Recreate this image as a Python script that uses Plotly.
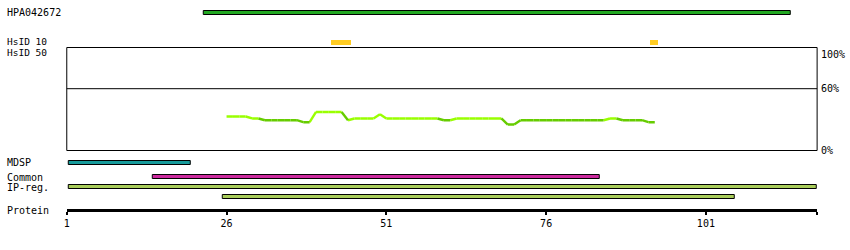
import plotly.graph_objects as go

# ---------------- data ----------------
positions = [26, 27, 28, 29, 30, 31, 32, 33, 34, 35, 36, 37, 38, 39, 40, 41, 42, 43, 44,
             45, 46, 47, 48, 49, 50, 51, 52, 53, 54, 55, 56, 57, 58, 59, 60, 61, 62, 63,
             64, 65, 66, 67, 68, 69, 70, 71, 72, 73, 74, 75, 76, 77, 78, 79, 80, 81, 82,
             83, 84, 85, 86, 87, 88, 89, 90, 91, 92, 93]
identity = [33.0, 33.0, 33.0, 33.0, 31.1, 31.1, 29.4, 29.4, 29.4, 29.4, 29.4, 29.4, 27.5, 27.5,
            37.4, 37.4, 37.4, 37.4, 37.4, 29.4, 31.1, 31.1, 31.1, 31.1, 35.1, 31.1, 31.1, 31.1,
            31.1, 31.1, 31.1, 31.1, 31.1, 31.1, 29.4, 29.4, 31.1, 31.1, 31.1, 31.1, 31.1, 31.1,
            31.1, 31.1, 25.2, 25.2, 29.4, 29.4, 29.4, 29.4, 29.4, 29.4, 29.4, 29.4, 29.4, 29.4,
            29.4, 29.4, 29.4, 29.4, 31.1, 31.1, 29.4, 29.4, 29.4, 29.4, 27.5, 27.5]

seq_start = 1
seq_end = 118.4
tick_vals = [1, 26, 51, 76, 101]
tick_labels = ["1", "26", "51", "76", "101"]

hpa_start = [22.4]
hpa_end = [114.3]
hsid10_start = [42.3, 92.2]
hsid10_end = [45.4, 93.5]
mdsp_start = [1.35]
mdsp_end = [20.45]
common_start = [14.45]
common_end = [84.4]
ipreg_start = [1.35, 25.4]
ipreg_end = [118.4, 105.45]

pct_labels = ["100%", "60%", "0%"]
pct_vals = [100, 60, 0]
row_names = ["HPA042672", "HsID 10", "HsID 50", "MDSP", "Common", "IP-reg.", "Protein"]

# ---------------- layout (pixel rows) ----------------
W, H = 850, 250
X0, X1 = 64, 817
row_text_y = [12.3, 41.2, 53.0, 162.8, 177.3, 187.3, 210]
row_text_size = [10, 9.5, 9.5, 10, 10, 10, 10]
FONT = "DejaVu Sans Mono"
LIGHT = "#99ff00"
DARK = "#66cc00"

fig = go.Figure()


def add_bars(starts, ends, yc, color, outline=True, thick=4):
    fig.add_trace(go.Bar(
        orientation="h",
        base=starts,
        x=[e - s for s, e in zip(starts, ends)],
        y=[yc] * len(starts),
        width=thick,
        marker=dict(color=color,
                    line=dict(color="black", width=1 if outline else 0)),
        xaxis="x", yaxis="y", showlegend=False, hoverinfo="skip",
    ))


add_bars(hpa_start, hpa_end, 12.5, "#22a822")
add_bars(hsid10_start, hsid10_end, 42.5, "#ffcc22", outline=False, thick=5)
add_bars(mdsp_start, mdsp_end, 163.0, "#179b9b")
add_bars(common_start, common_end, 177.4, "#cc2a9e")
add_bars(ipreg_start[:1], ipreg_end[:1], 187.4, "#a8cc5a")
add_bars(ipreg_start[1:], ipreg_end[1:], 197.4, "#a8cc5a")

# identity line, segments coloured by value
seg = {LIGHT: ([], []), DARK: ([], [])}
for i in range(len(positions) - 1):
    c = LIGHT if identity[i + 1] >= 30 else DARK
    seg[c][0].extend([positions[i], positions[i + 1], None])
    seg[c][1].extend([identity[i], identity[i + 1], None])
for c, (xs, ys) in seg.items():
    fig.add_trace(go.Scatter(x=xs, y=ys, mode="lines",
                             line=dict(color=c, width=2.4),
                             xaxis="x", yaxis="y2", showlegend=False,
                             hoverinfo="skip"))

# box + 60% line
fig.add_shape(type="rect", xref="x domain", yref="y2 domain", x0=0, x1=1, y0=0, y1=1,
              line=dict(color="black", width=1), fillcolor="rgba(0,0,0,0)")
fig.add_shape(type="line", xref="x domain", yref="y2", x0=0, x1=1, y0=60, y1=60,
              line=dict(color="black", width=1))

ann = []
for name, yc, fs in zip(row_names, row_text_y, row_text_size):
    ann.append(dict(text=name, x=3 / W, y=1 - yc / H, xref="paper", yref="paper",
                    xanchor="left", yanchor="middle", showarrow=False, borderpad=0,
                    font=dict(family=FONT, size=fs, color="black")))
for lab, v in zip(pct_labels, pct_vals):
    ann.append(dict(text=lab, x=819 / W, y=v, xref="paper", yref="y2",
                    xanchor="left", yanchor="top" if v == 100 else "middle",
                    showarrow=False, font=dict(family=FONT, size=10, color="black")))

pct_dom = [1 - 150.5 / H, 1 - 47.5 / H]

fig.update_layout(
    width=W, height=H, margin=dict(l=0, r=0, t=0, b=0),
    paper_bgcolor="white", plot_bgcolor="rgba(0,0,0,0)",
    barmode="overlay", bargap=0, hovermode=False,
    annotations=ann,
    xaxis=dict(domain=[X0 / W, X1 / W], range=[seq_start, seq_end],
               anchor="free", position=1 - 209.7 / H,
               showline=True, linecolor="black", linewidth=3,
               ticks="outside", ticklen=3, tickwidth=2, tickcolor="black",
               tickvals=tick_vals + [seq_end], ticktext=tick_labels + [""],
               tickfont=dict(family=FONT, size=10, color="black"),
               showgrid=False, zeroline=False, fixedrange=True),
    yaxis=dict(domain=[0, 1], range=[H, 0], visible=False, fixedrange=True),
    yaxis2=dict(domain=pct_dom, range=[0, 100], visible=False, anchor="x",
                fixedrange=True),
)

fig.write_html("out.html", config={"displayModeBar": False})
